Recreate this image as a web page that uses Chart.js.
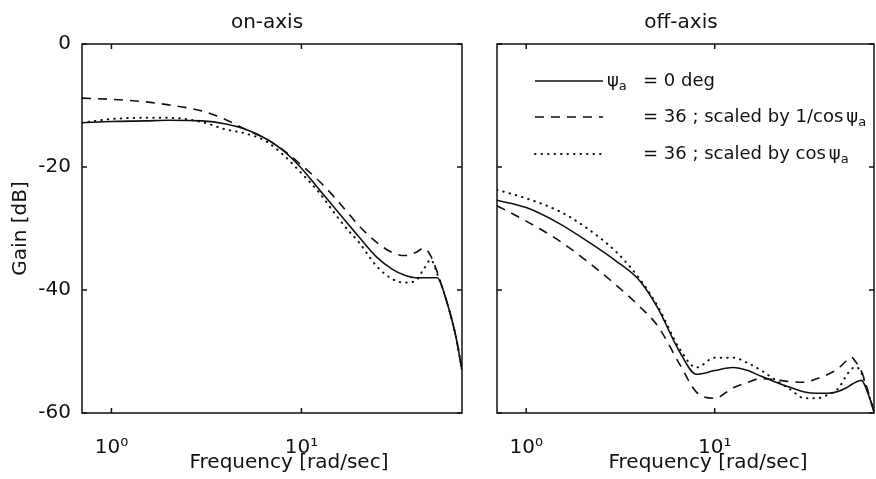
<!DOCTYPE html>
<html lang="en">
<head>
  <meta charset="UTF-8" />
  <title>Gain – on-axis / off-axis</title>
  <script src="https://cdn.jsdelivr.net/npm/chart.js"></script>
  <style>
    body { margin: 0; background: #fff; }
    .wrap { position: relative; width: 876px; height: 479px; background: #fff; }
    .wrap canvas { position: absolute; top: 0; }
    #onAxis { left: 0; }
    #offAxis { left: 470px; }
  </style>
</head>
<body>
  <div class="wrap">
    <canvas id="onAxis" width="470" height="479"></canvas>
    <canvas id="offAxis" width="406" height="479"></canvas>
  </div>

  <script>
    // frequency grids (rad/sec)
    const freqOn  = [0.7, 1, 1.5, 2, 3, 4, 5, 6.5, 8, 10, 12.5, 15, 17.5, 20, 25, 30, 35, 40, 44, 48, 52, 55, 60, 65, 70];
    const freqOff = [0.7, 1, 1.5, 2, 3, 4, 5, 6.5, 8, 10, 12.5, 15, 17.5, 20, 25, 30, 35, 40, 45, 50, 53, 56, 60, 65, 70];

    // on-axis gains (dB)
    const onSolid  = [-12.8, -12.6, -12.5, -12.4, -12.5, -13.0, -13.8, -15.4, -17.3, -20.2, -23.8, -26.7, -29.2, -31.3, -34.7, -36.6, -37.6, -38.0, -38.0, -38.0, -38.0, -39.5, -43.3, -47.6, -53.0];
    const onDashed = [-8.8, -9.0, -9.4, -9.9, -10.9, -12.3, -13.8, -15.4, -17.2, -19.7, -22.4, -25.0, -27.4, -29.5, -32.3, -33.9, -34.4, -33.9, -33.2, -34.5, -37.2, -39.5, -43.3, -47.6, -53.0];
    const onDotted = [-12.8, -12.2, -12.0, -12.0, -12.7, -13.9, -14.5, -15.8, -18.0, -21.0, -24.3, -27.6, -30.2, -32.2, -36.2, -38.2, -38.8, -38.5, -36.6, -35.1, -37.5, -39.5, -43.3, -47.6, -53.0];

    // off-axis gains (dB)
    const offSolid  = [-25.4, -26.6, -29.2, -31.6, -35.3, -38.5, -43.0, -50.0, -53.7, -53.1, -52.6, -53.1, -54.0, -54.7, -55.8, -56.6, -56.8, -56.8, -56.5, -55.9, -55.4, -55.0, -54.7, -56.8, -59.8];
    const offDashed = [-26.3, -28.8, -32.0, -34.8, -39.2, -42.7, -45.9, -52.0, -56.6, -57.6, -55.9, -55.0, -54.4, -54.5, -54.9, -55.0, -54.4, -53.7, -52.8, -51.5, -50.9, -51.7, -53.2, -56.4, -59.8];
    const offDotted = [-23.7, -25.1, -27.2, -29.5, -33.8, -38.2, -42.7, -49.5, -52.6, -51.0, -51.0, -51.9, -53.0, -54.2, -56.1, -57.6, -57.6, -57.0, -56.1, -53.9, -52.9, -52.5, -53.5, -56.6, -59.8];

    // axes
    const xTicks = [1, 10];
    const xTickLabels = ['10\u2070', '10\u00b9'];
    const yTicks = [0, -20, -40, -60];
    const legendText = ['= 0 deg', '= 36 ; scaled by 1/cos', '= 36 ; scaled by cos'];

    const ink = '#111';
    const FONT = '"DejaVu Sans", sans-serif';

    const lineStyles = [
      { borderDash: [], borderWidth: 1.6, borderCapStyle: 'butt' },
      { borderDash: [9, 7], borderWidth: 1.6, borderCapStyle: 'butt' },
      { borderDash: [0.5, 6], borderWidth: 2, borderCapStyle: 'round' }
    ];

    function makeDatasets(freq, series) {
      return series.map((vals, i) => ({
        label: 'ψa ' + legendText[i],
        data: freq.map((f, k) => ({ x: f, y: vals[k] })),
        borderColor: ink,
        pointRadius: 0,
        fill: false,
        cubicInterpolationMode: 'monotone',
        ...lineStyles[i]
      }));
    }

    // box, inward ticks, panel title and x label
    const framePlugin = {
      id: 'frame',
      afterDatasetsDraw(chart, args, opts) {
        const { ctx, chartArea: a, scales } = chart;
        ctx.save();
        ctx.strokeStyle = ink;
        ctx.lineWidth = 1.5;
        ctx.setLineDash([]);
        ctx.strokeRect(a.left, a.top, a.width, a.height);
        ctx.beginPath();
        yTicks.forEach(v => {
          const y = scales.y.getPixelForValue(v);
          ctx.moveTo(a.left, y); ctx.lineTo(a.left + 5, y);
          ctx.moveTo(a.right, y); ctx.lineTo(a.right - 5, y);
        });
        xTicks.forEach(v => {
          const x = scales.x.getPixelForValue(v);
          ctx.moveTo(x, a.bottom); ctx.lineTo(x, a.bottom - 5);
          ctx.moveTo(x, a.top); ctx.lineTo(x, a.top + 5);
        });
        ctx.stroke();

        ctx.fillStyle = ink;
        ctx.textAlign = 'center';
        ctx.textBaseline = 'alphabetic';
        ctx.font = '20px ' + FONT;
        ctx.fillText(opts.title, a.left + opts.titleX, 28);
        ctx.fillText('Frequency [rad/sec]', a.left + opts.xLabelX, 468);
        ctx.restore();
      }
    };

    // legend inside the off-axis panel
    const keyPlugin = {
      id: 'keyBox',
      afterDatasetsDraw(chart) {
        const { ctx, chartArea: a } = chart;
        const rows = [81, 117, 154];
        const x1 = a.left + 38, x2 = a.left + 106;
        const eqX = a.left + 146;

        const psi = (x, y) => {
          ctx.font = '18px ' + FONT;
          ctx.fillText('ψ', x, y);
          x += ctx.measureText('ψ').width;
          ctx.font = '13px ' + FONT;
          ctx.fillText('a', x, y + 6);
          return x + ctx.measureText('a').width;
        };

        ctx.save();
        ctx.fillStyle = ink;
        ctx.strokeStyle = ink;
        ctx.textAlign = 'left';
        ctx.textBaseline = 'middle';
        chart.data.datasets.forEach((ds, i) => {
          const y = rows[i];
          ctx.lineWidth = ds.borderWidth;
          ctx.lineCap = ds.borderCapStyle;
          ctx.setLineDash(ds.borderDash);
          ctx.beginPath();
          ctx.moveTo(x1, y);
          ctx.lineTo(x2, y);
          ctx.stroke();
          ctx.setLineDash([]);

          if (i === 0) {
            psi(a.left + 110, y);
            ctx.font = '18px ' + FONT;
            ctx.fillText(legendText[i], eqX, y);
          } else {
            ctx.font = '18px ' + FONT;
            ctx.fillText(legendText[i], eqX, y);
            psi(eqX + ctx.measureText(legendText[i]).width + 3, y);
          }
        });
        ctx.restore();
      }
    };

    function xScale() {
      return {
        type: 'logarithmic',
        min: 0.7,
        max: 70,
        afterBuildTicks: s => { s.ticks = xTicks.map(v => ({ value: v })); },
        afterFit: s => { s.height = 66; },
        grid: { display: false },
        border: { display: false },
        ticks: {
          autoSkip: false,
          maxRotation: 0,
          padding: 15,
          color: ink,
          font: { family: FONT, size: 20 },
          callback: (v, i) => xTickLabels[i]
        }
      };
    }

    // on-axis
    new Chart(document.getElementById('onAxis'), {
      type: 'line',
      data: { datasets: makeDatasets(freqOn, [onSolid, onDashed, onDotted]) },
      options: {
        responsive: false,
        animation: false,
        layout: { padding: { top: 44, right: 8, left: 0, bottom: 0 } },
        plugins: {
          legend: { display: false },
          tooltip: { enabled: false },
          frame: { title: 'on-axis', titleX: 185, xLabelX: 207 }
        },
        scales: {
          x: xScale(),
          y: {
            min: -60,
            max: 0,
            afterBuildTicks: s => { s.ticks = yTicks.map(v => ({ value: v })); },
            afterFit: s => { s.width = 82; },
            grid: { display: false },
            border: { display: false },
            ticks: { padding: 3, color: ink, font: { family: FONT, size: 20 } },
            title: {
              display: true,
              text: 'Gain [dB]',
              color: ink,
              font: { family: FONT, size: 20 },
              padding: { top: 9, bottom: 0 }
            }
          }
        }
      },
      plugins: [framePlugin]
    });

    // off-axis
    new Chart(document.getElementById('offAxis'), {
      type: 'line',
      data: { datasets: makeDatasets(freqOff, [offSolid, offDashed, offDotted]) },
      options: {
        responsive: false,
        animation: false,
        layout: { padding: { top: 44, right: 2, left: 0, bottom: 0 } },
        plugins: {
          legend: { display: false },
          tooltip: { enabled: false },
          frame: { title: 'off-axis', titleX: 184, xLabelX: 211 }
        },
        scales: {
          x: xScale(),
          y: {
            min: -60,
            max: 0,
            afterBuildTicks: s => { s.ticks = yTicks.map(v => ({ value: v })); },
            afterFit: s => { s.width = 27; },
            grid: { display: false },
            border: { display: false },
            ticks: { display: false }
          }
        }
      },
      plugins: [framePlugin, keyPlugin]
    });
  </script>
</body>
</html>
